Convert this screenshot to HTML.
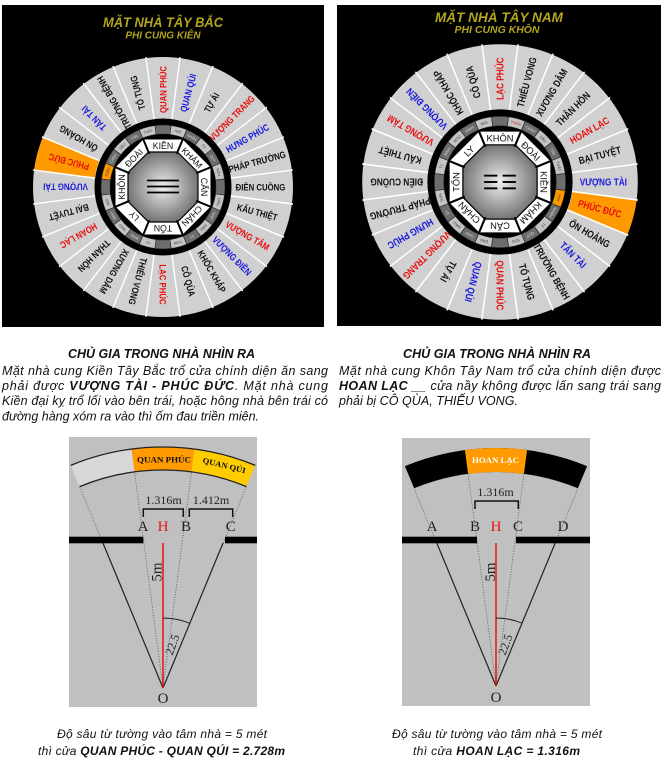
<!DOCTYPE html>
<html><head><meta charset="utf-8">
<style>
html,body{margin:0;padding:0;background:#fff;width:663px;height:770px;overflow:hidden}
svg{display:block}
</style></head>
<body>
<svg width="663" height="770" viewBox="0 0 663 770" xmlns="http://www.w3.org/2000/svg" font-family="'Liberation Sans', Arial, sans-serif">
<defs>
  <radialGradient id="gc" cx="50%" cy="50%" r="55%">
    <stop offset="0" stop-color="#efefef"/>
    <stop offset="1" stop-color="#6a6a6a"/>
  </radialGradient>
  <line id="sep" x1="0" y1="-131" x2="0" y2="131" stroke="#fff" stroke-width="1.4"/>
  <path id="oseg" d="M-16.97,-128.89 A130,130 0 0 1 16.97,-128.89 L9.01,-68.41 A69,69 0 0 0 -9.01,-68.41Z"/>
  <path id="cell" d="M-8.09,-61.47 A62,62 0 0 1 8.09,-61.47 L6.92,-52.55 A53,53 0 0 0 -6.92,-52.55Z" stroke="#222" stroke-width="0.6"/>
  <line id="vsep" x1="0" y1="-36" x2="0" y2="-53" stroke="#000" stroke-width="2"/>
  <g id="ring1">
    <circle r="130" fill="#d0d0d0"/>
    <use href="#sep" transform="rotate(7.5)"/>
    <use href="#sep" transform="rotate(22.5)"/>
    <use href="#sep" transform="rotate(37.5)"/>
    <use href="#sep" transform="rotate(52.5)"/>
    <use href="#sep" transform="rotate(67.5)"/>
    <use href="#sep" transform="rotate(82.5)"/>
    <use href="#sep" transform="rotate(97.5)"/>
    <use href="#sep" transform="rotate(112.5)"/>
    <use href="#sep" transform="rotate(127.5)"/>
    <use href="#sep" transform="rotate(142.5)"/>
    <use href="#sep" transform="rotate(157.5)"/>
    <use href="#sep" transform="rotate(172.5)"/>
  </g>
  <g id="core">
    <circle r="68.5" fill="#000"/>
    <use href="#cell" fill="#6d6d6d"/>
    <use href="#cell" transform="rotate(15)" fill="#c4c4c4"/>
    <use href="#cell" transform="rotate(30)" fill="#6d6d6d"/>
    <use href="#cell" transform="rotate(45)" fill="#c4c4c4"/>
    <use href="#cell" transform="rotate(60)" fill="#6d6d6d"/>
    <use href="#cell" transform="rotate(75)" fill="#c4c4c4"/>
    <use href="#cell" transform="rotate(90)" fill="#6d6d6d"/>
    <use href="#cell" transform="rotate(105)" fill="#c4c4c4"/>
    <use href="#cell" transform="rotate(120)" fill="#6d6d6d"/>
    <use href="#cell" transform="rotate(135)" fill="#c4c4c4"/>
    <use href="#cell" transform="rotate(150)" fill="#6d6d6d"/>
    <use href="#cell" transform="rotate(165)" fill="#c4c4c4"/>
    <use href="#cell" transform="rotate(180)" fill="#6d6d6d"/>
    <use href="#cell" transform="rotate(195)" fill="#c4c4c4"/>
    <use href="#cell" transform="rotate(210)" fill="#6d6d6d"/>
    <use href="#cell" transform="rotate(225)" fill="#c4c4c4"/>
    <use href="#cell" transform="rotate(240)" fill="#6d6d6d"/>
    <use href="#cell" transform="rotate(255)" fill="#c4c4c4"/>
    <use href="#cell" transform="rotate(270)" fill="#6d6d6d"/>
    <use href="#cell" transform="rotate(285)" fill="#c4c4c4"/>
    <use href="#cell" transform="rotate(300)" fill="#6d6d6d"/>
    <use href="#cell" transform="rotate(315)" fill="#c4c4c4"/>
    <use href="#cell" transform="rotate(330)" fill="#6d6d6d"/>
    <use href="#cell" transform="rotate(345)" fill="#c4c4c4"/>
    <polygon points="19.88,-48 48,-19.88 48,19.88 19.88,48 -19.88,48 -48,19.88 -48,-19.88 -19.88,-48" fill="#fff" stroke="#000" stroke-width="1"/>
    <polygon points="14.5,-35 35,-14.5 35,14.5 14.5,35 -14.5,35 -35,14.5 -35,-14.5 -14.5,-35" fill="url(#gc)" stroke="#000" stroke-width="1.2"/>
    <use href="#vsep" transform="rotate(22.5)"/>
    <use href="#vsep" transform="rotate(67.5)"/>
    <use href="#vsep" transform="rotate(112.5)"/>
    <use href="#vsep" transform="rotate(157.5)"/>
    <use href="#vsep" transform="rotate(202.5)"/>
    <use href="#vsep" transform="rotate(247.5)"/>
    <use href="#vsep" transform="rotate(292.5)"/>
    <use href="#vsep" transform="rotate(337.5)"/>
  </g>
</defs>

<!-- ============ LEFT PANEL ============ -->
<rect x="2" y="5" width="322" height="322" fill="#000"/>
<text x="163" y="27" font-size="14" font-weight="bold" font-style="italic" text-anchor="middle" textLength="120" lengthAdjust="spacingAndGlyphs" fill="#b3a51c">MẶT NHÀ  TÂY BẮC</text>
<text x="163" y="38.5" font-size="10" font-weight="bold" font-style="italic" text-anchor="middle" textLength="75" lengthAdjust="spacingAndGlyphs" fill="#b3a51c">PHI CUNG KIÊN</text>

<g transform="translate(163,187)">
  <use href="#ring1"/>
  <use href="#oseg" transform="rotate(285)" fill="#ff9900"/>
  <use href="#sep" transform="rotate(97.5)"/>
  <use href="#sep" transform="rotate(112.5)"/>
  <g font-weight="bold" font-size="9.5" text-anchor="middle">
    <text transform="rotate(-90) scale(.82,1)" x="118.9" y="3.3" fill="#e81010">QUAN PHÚC</text>
    <text transform="rotate(-75) scale(.82,1)" x="118.9" y="3.3" fill="#1818e0">QUAN QÚI</text>
    <text transform="rotate(-60) scale(.82,1)" x="118.9" y="3.3" fill="#111">TỰ ÁI</text>
    <text transform="rotate(-45) scale(.82,1)" x="118.9" y="3.3" fill="#e81010">VƯỢNG TRANG</text>
    <text transform="rotate(-30) scale(.82,1)" x="118.9" y="3.3" fill="#1818e0">HƯNG PHÚC</text>
    <text transform="rotate(-15) scale(.82,1)" x="118.9" y="3.3" fill="#111">PHÁP TRƯỜNG</text>
    <text transform="rotate(0) scale(.82,1)" x="118.9" y="3.3" fill="#111">ĐIÊN CUỒNG</text>
    <text transform="rotate(15) scale(.82,1)" x="118.9" y="3.3" fill="#111">KẤU THIỆT</text>
    <text transform="rotate(30) scale(.82,1)" x="118.9" y="3.3" fill="#e81010">VƯỢNG TÂM</text>
    <text transform="rotate(45) scale(.82,1)" x="118.9" y="3.3" fill="#1818e0">VƯỢNG ĐIỀN</text>
    <text transform="rotate(60) scale(.82,1)" x="118.9" y="3.3" fill="#111">KHỐC KHẤP</text>
    <text transform="rotate(75) scale(.82,1)" x="118.9" y="3.3" fill="#111">CÔ QÙA</text>
    <text transform="rotate(90) scale(.82,1)" x="118.9" y="3.3" fill="#e81010">LẠC PHÚC</text>
    <text transform="rotate(105) scale(.82,1)" x="118.9" y="3.3" fill="#111">THIỂU VONG</text>
    <text transform="rotate(120) scale(.82,1)" x="118.9" y="3.3" fill="#111">XƯƠNG DÂM</text>
    <text transform="rotate(135) scale(.82,1)" x="118.9" y="3.3" fill="#111">THÂN HÔN</text>
    <text transform="rotate(150) scale(.82,1)" x="118.9" y="3.3" fill="#e81010">HOAN LẠC</text>
    <text transform="rotate(165) scale(.82,1)" x="118.9" y="3.3" fill="#111">BẠI TUYỆT</text>
    <text transform="rotate(180) scale(.82,1)" x="118.9" y="3.3" fill="#1818e0">VƯỢNG TÀI</text>
    <text transform="rotate(195) scale(.82,1)" x="118.9" y="3.3" fill="#e81010">PHÚC ĐỨC</text>
    <text transform="rotate(210) scale(.82,1)" x="118.9" y="3.3" fill="#111">ỔN HOẢNG</text>
    <text transform="rotate(225) scale(.82,1)" x="118.9" y="3.3" fill="#1818e0">TẤN TÀI</text>
    <text transform="rotate(240) scale(.82,1)" x="118.9" y="3.3" fill="#111">TRƯỜNG BỆNH</text>
    <text transform="rotate(255) scale(.82,1)" x="118.9" y="3.3" fill="#111">TỐ TỤNG</text>
  </g>
  <use href="#core"/>
  <use href="#cell" transform="rotate(285)" fill="#ff9900"/>
  <g font-size="3.6" text-anchor="middle" fill="#3a3a3a">
    <text transform="rotate(15)" y="-56.2">HỢI</text>
    <text transform="rotate(30)" y="-56.2" fill="#ddd">NHÂM</text>
    <text transform="rotate(45)" y="-56.2">TÝ</text>
    <text transform="rotate(60)" y="-56.2" fill="#ddd">QUÝ</text>
    <text transform="rotate(75)" y="-56.2">SỬU</text>
    <text transform="rotate(105)" y="-56.2">DẦN</text>
    <text transform="rotate(120)" y="-56.2" fill="#ddd">GIÁP</text>
    <text transform="rotate(135)" y="-56.2">MÃO</text>
    <text transform="rotate(150)" y="-56.2" fill="#ddd">ẤT</text>
    <text transform="rotate(165)" y="-56.2">THÌN</text>
    <text transform="rotate(195)" y="-56.2">TỴ</text>
    <text transform="rotate(210)" y="-56.2" fill="#ddd">BÍNH</text>
    <text transform="rotate(225)" y="-56.2">NGỌ</text>
    <text transform="rotate(240)" y="-56.2" fill="#ddd">ĐINH</text>
    <text transform="rotate(255)" y="-56.2">MÙI</text>
    <text transform="rotate(285)" y="-56.2">THÂN</text>
    <text transform="rotate(300)" y="-56.2" fill="#ddd">CANH</text>
    <text transform="rotate(315)" y="-56.2">DẬU</text>
    <text transform="rotate(330)" y="-56.2" fill="#ddd">TÂN</text>
    <text transform="rotate(345)" y="-56.2">TUẤT</text>
  </g>
  <g font-size="8.8" text-anchor="middle" fill="#111">
    <text transform="rotate(0)" y="-38">KIỀN</text>
    <text transform="rotate(45)" y="-38">KHẢM</text>
    <text transform="rotate(90)" y="-38">CẤN</text>
    <text transform="rotate(135)" y="-38">CHẤN</text>
    <text transform="rotate(180)" y="-38">TỐN</text>
    <text transform="rotate(225)" y="-38">LY</text>
    <text transform="rotate(270)" y="-38">KHÔN</text>
    <text transform="rotate(315)" y="-38">ĐOÀI</text>
  </g>
  <g stroke="#000" stroke-width="1.8">
    <line x1="-16" y1="-6.5" x2="16" y2="-6.5"/>
    <line x1="-16" y1="-0.5" x2="16" y2="-0.5"/>
    <line x1="-16" y1="5.5" x2="16" y2="5.5"/>
  </g>
</g>

<!-- ============ RIGHT PANEL ============ -->
<rect x="337" y="5" width="324" height="321" fill="#000"/>
<text x="499" y="22" font-size="14" font-weight="bold" font-style="italic" text-anchor="middle" textLength="128" lengthAdjust="spacingAndGlyphs" fill="#b3a51c">MẶT NHÀ  TÂY NAM</text>
<text x="497" y="33" font-size="10" font-weight="bold" font-style="italic" text-anchor="middle" textLength="85" lengthAdjust="spacingAndGlyphs" fill="#b3a51c">PHI CUNG KHÔN</text>

<g transform="translate(500,182) scale(1.06)">
  <use href="#ring1"/>
  <use href="#oseg" transform="rotate(105)" fill="#ff9900"/>
  <use href="#sep" transform="rotate(97.5)"/>
  <use href="#sep" transform="rotate(112.5)"/>
  <g font-weight="bold" font-size="9.5" text-anchor="middle">
    <text transform="rotate(-90) scale(.82,1)" x="118.9" y="3.3" fill="#e81010">LẠC PHÚC</text>
    <text transform="rotate(-75) scale(.82,1)" x="118.9" y="3.3" fill="#111">THIỂU VONG</text>
    <text transform="rotate(-60) scale(.82,1)" x="118.9" y="3.3" fill="#111">XƯƠNG DÂM</text>
    <text transform="rotate(-45) scale(.82,1)" x="118.9" y="3.3" fill="#111">THÂN HÔN</text>
    <text transform="rotate(-30) scale(.82,1)" x="118.9" y="3.3" fill="#e81010">HOAN LẠC</text>
    <text transform="rotate(-15) scale(.82,1)" x="118.9" y="3.3" fill="#111">BẠI TUYỆT</text>
    <text transform="rotate(0) scale(.82,1)" x="118.9" y="3.3" fill="#1818e0">VƯỢNG TÀI</text>
    <text transform="rotate(15) scale(.82,1)" x="118.9" y="3.3" fill="#e81010">PHÚC ĐỨC</text>
    <text transform="rotate(30) scale(.82,1)" x="118.9" y="3.3" fill="#111">ỔN HOẢNG</text>
    <text transform="rotate(45) scale(.82,1)" x="118.9" y="3.3" fill="#1818e0">TẤN TÀI</text>
    <text transform="rotate(60) scale(.82,1)" x="118.9" y="3.3" fill="#111">TRƯỜNG BỆNH</text>
    <text transform="rotate(75) scale(.82,1)" x="118.9" y="3.3" fill="#111">TỐ TỤNG</text>
    <text transform="rotate(90) scale(.82,1)" x="118.9" y="3.3" fill="#e81010">QUAN PHÚC</text>
    <text transform="rotate(105) scale(.82,1)" x="118.9" y="3.3" fill="#1818e0">QUAN QÚI</text>
    <text transform="rotate(120) scale(.82,1)" x="118.9" y="3.3" fill="#111">TỰ ÁI</text>
    <text transform="rotate(135) scale(.82,1)" x="118.9" y="3.3" fill="#e81010">VƯỢNG TRANG</text>
    <text transform="rotate(150) scale(.82,1)" x="118.9" y="3.3" fill="#1818e0">HƯNG PHÚC</text>
    <text transform="rotate(165) scale(.82,1)" x="118.9" y="3.3" fill="#111">PHÁP TRƯỜNG</text>
    <text transform="rotate(180) scale(.82,1)" x="118.9" y="3.3" fill="#111">ĐIÊN CUỒNG</text>
    <text transform="rotate(195) scale(.82,1)" x="118.9" y="3.3" fill="#111">KẤU THIỆT</text>
    <text transform="rotate(210) scale(.82,1)" x="118.9" y="3.3" fill="#e81010">VƯỢNG TÂM</text>
    <text transform="rotate(225) scale(.82,1)" x="118.9" y="3.3" fill="#1818e0">VƯỢNG ĐIỀN</text>
    <text transform="rotate(240) scale(.82,1)" x="118.9" y="3.3" fill="#111">KHỐC KHẤP</text>
    <text transform="rotate(255) scale(.82,1)" x="118.9" y="3.3" fill="#111">CÔ QÙA</text>
  </g>
  <use href="#core"/>
  <use href="#cell" transform="rotate(105)" fill="#ff9900"/>
  <g font-size="3.6" text-anchor="middle" fill="#3a3a3a">
    <text transform="rotate(15)" y="-56.2" fill="#d02020">THÂN</text>
    <text transform="rotate(30)" y="-56.2" fill="#ddd">CANH</text>
    <text transform="rotate(45)" y="-56.2">DẬU</text>
    <text transform="rotate(60)" y="-56.2" fill="#ddd">TÂN</text>
    <text transform="rotate(75)" y="-56.2">TUẤT</text>
    <text transform="rotate(105)" y="-56.2">HỢI</text>
    <text transform="rotate(120)" y="-56.2" fill="#ddd">NHÂM</text>
    <text transform="rotate(135)" y="-56.2">TÝ</text>
    <text transform="rotate(150)" y="-56.2" fill="#ddd">QUÝ</text>
    <text transform="rotate(165)" y="-56.2">SỬU</text>
    <text transform="rotate(195)" y="-56.2">DẦN</text>
    <text transform="rotate(210)" y="-56.2" fill="#ddd">GIÁP</text>
    <text transform="rotate(225)" y="-56.2">MÃO</text>
    <text transform="rotate(240)" y="-56.2" fill="#ddd">ẤT</text>
    <text transform="rotate(255)" y="-56.2">THÌN</text>
    <text transform="rotate(285)" y="-56.2">TỴ</text>
    <text transform="rotate(300)" y="-56.2" fill="#ddd">BÍNH</text>
    <text transform="rotate(315)" y="-56.2">NGỌ</text>
    <text transform="rotate(330)" y="-56.2" fill="#ddd">ĐINH</text>
    <text transform="rotate(345)" y="-56.2">MÙI</text>
  </g>
  <g font-size="8.8" text-anchor="middle" fill="#111">
    <text transform="rotate(0)" y="-38">KHÔN</text>
    <text transform="rotate(45)" y="-38">ĐOÀI</text>
    <text transform="rotate(90)" y="-38">KIỀN</text>
    <text transform="rotate(135)" y="-38">KHẢM</text>
    <text transform="rotate(180)" y="-38">CẤN</text>
    <text transform="rotate(225)" y="-38">CHẤN</text>
    <text transform="rotate(270)" y="-38">TỐN</text>
    <text transform="rotate(315)" y="-38">LY</text>
  </g>
  <g stroke="#000" stroke-width="1.8">
    <line x1="-15" y1="-6" x2="-2.5" y2="-6"/>
    <line x1="2.5" y1="-6" x2="15" y2="-6"/>
    <line x1="-15" y1="0" x2="-2.5" y2="0"/>
    <line x1="2.5" y1="0" x2="15" y2="0"/>
    <line x1="-15" y1="6" x2="-2.5" y2="6"/>
    <line x1="2.5" y1="6" x2="15" y2="6"/>
  </g>
</g>

<!-- ============ PARAGRAPHS ============ -->
<g font-size="12.5" fill="#111" font-style="italic">
  <text x="161.5" y="358" font-weight="bold" text-anchor="middle" textLength="187" lengthAdjust="spacingAndGlyphs">CHỦ GIA TRONG NHÀ NHÌN RA</text>
  <text x="2" y="375" textLength="326" lengthAdjust="spacing">Mặt nhà cung Kiền Tây Bắc trổ cửa chính diện ăn sang</text>
  <text x="2" y="390" textLength="326" lengthAdjust="spacing">phải được <tspan font-weight="bold">VƯỢNG TÀI - PHÚC ĐỨC</tspan>. Mặt nhà cung</text>
  <text x="2" y="405" textLength="326" lengthAdjust="spacing">Kiền đại kỵ trổ lối vào bên trái, hoặc hông nhà bên trái có</text>
  <text x="2" y="420.5" textLength="257" lengthAdjust="spacing">đường hàng xóm ra vào thì ốm đau triền miên.</text>

  <text x="497" y="358" font-weight="bold" text-anchor="middle" textLength="188" lengthAdjust="spacingAndGlyphs">CHỦ GIA TRONG NHÀ NHÌN RA</text>
  <text x="339" y="375" textLength="322" lengthAdjust="spacing">Mặt nhà cung Khôn Tây Nam trổ cửa chính diện được</text>
  <text x="339" y="390" textLength="322" lengthAdjust="spacing"><tspan font-weight="bold">HOAN LẠC</tspan> __ cửa nầy không được lấn sang trái sang</text>
  <text x="339" y="405" textLength="179" lengthAdjust="spacing">phải bị CÔ QÙA, THIẾU VONG.</text>
</g>

<!-- ============ BOTTOM LEFT DIAGRAM ============ -->
<rect x="69" y="437" width="188" height="270" fill="#c0c0c0"/>
<path d="M70.77,465.35 A241,241 0 0 1 131.54,449.06 L134.54,471.87 A218,218 0 0 0 79.58,486.59Z" fill="#d8d8d8"/>
<path d="M131.54,449.06 A241,241 0 0 1 194.46,449.06 L191.46,471.87 A218,218 0 0 0 134.54,471.87Z" fill="#ff9a00"/>
<path d="M194.46,449.06 A241,241 0 0 1 255.23,465.35 L246.42,486.59 A218,218 0 0 0 191.46,471.87Z" fill="#ffcc00"/>
<path d="M70.77,465.35 A241,241 0 0 1 255.23,465.35 M79.58,486.59 A218,218 0 0 1 246.42,486.59" fill="none" stroke="#222" stroke-width="1.3"/>
<text x="164" y="462.5" font-family="'Liberation Serif', serif" font-weight="bold" font-size="8" text-anchor="middle" textLength="54" lengthAdjust="spacingAndGlyphs" fill="#111">QUAN PHÚC</text>
<text transform="translate(223.5,468) rotate(14)" font-family="'Liberation Serif', serif" font-weight="bold" font-size="8" text-anchor="middle" textLength="44" lengthAdjust="spacingAndGlyphs" fill="#111">QUAN QÚI</text>
<g stroke="#555" stroke-width="0.8" stroke-dasharray="1 1.6" fill="none">
  <line x1="163" y1="688" x2="134.54" y2="471.87"/>
  <line x1="163" y1="688" x2="191.46" y2="471.87"/>
  <line x1="102.94" y1="543" x2="79.58" y2="486.59"/>
  <line x1="223.06" y1="543" x2="246.42" y2="486.59"/>
</g>
<g stroke="#222" stroke-width="1.2">
  <line x1="163" y1="688" x2="102.94" y2="543"/>
  <line x1="163" y1="688" x2="223.06" y2="543"/>
</g>
<rect x="69" y="536.7" width="74.3" height="6.6" fill="#000"/>
<rect x="225" y="536.7" width="32" height="6.6" fill="#000"/>
<line x1="163" y1="543" x2="163" y2="688" stroke="#ee1111" stroke-width="1.5"/>
<path d="M163,618 A70,70 0 0 1 189.79,623.33" fill="none" stroke="#222" stroke-width="1"/>
<path d="M143.3,517 V509 H183.3 V517 M189.3,517 V509 H232.7 V517" fill="none" stroke="#111" stroke-width="1.5"/>
<g font-family="'Liberation Serif', serif" fill="#222" text-anchor="middle">
  <text x="163.5" y="504" font-size="12">1.316m</text>
  <text x="211" y="504" font-size="12">1.412m</text>
  <text x="143" y="531" font-size="15">A</text>
  <text x="163" y="531" font-size="15" fill="#ee1111">H</text>
  <text x="186" y="531" font-size="15">B</text>
  <text x="230.7" y="531" font-size="15">C</text>
  <text x="163" y="703" font-size="15">O</text>
  <text transform="translate(161.5,572) rotate(-90)" font-size="15">5m</text>
  <text transform="translate(176,646) rotate(-70)" font-size="12">22.5</text>
</g>

<!-- ============ BOTTOM RIGHT DIAGRAM ============ -->
<rect x="402" y="438" width="188" height="268" fill="#c0c0c0"/>
<path d="M404.92,466.12 A238,238 0 0 1 587.08,466.12 L577.89,488.29 A214,214 0 0 0 414.11,488.29Z" fill="#000"/>
<path d="M464.93,450.04 A238,238 0 0 1 527.07,450.04 L523.93,473.83 A214,214 0 0 0 468.07,473.83Z" fill="#ff9a00"/>
<text x="495.5" y="463" font-family="'Liberation Serif', serif" font-weight="bold" font-size="8" text-anchor="middle" textLength="47" lengthAdjust="spacingAndGlyphs" fill="#fff">HOAN LẠC</text>
<g stroke="#555" stroke-width="0.8" stroke-dasharray="1 1.6" fill="none">
  <line x1="496" y1="686" x2="468.07" y2="473.83"/>
  <line x1="496" y1="686" x2="523.93" y2="473.83"/>
  <line x1="436.8" y1="543" x2="414.11" y2="488.29"/>
  <line x1="555.2" y1="543" x2="577.89" y2="488.29"/>
</g>
<g stroke="#222" stroke-width="1.2">
  <line x1="496" y1="686" x2="436.8" y2="543"/>
  <line x1="496" y1="686" x2="555.2" y2="543"/>
</g>
<rect x="402" y="536.7" width="75" height="6.6" fill="#000"/>
<rect x="516" y="536.7" width="74" height="6.6" fill="#000"/>
<line x1="496" y1="543" x2="496" y2="686" stroke="#ee1111" stroke-width="1.5"/>
<path d="M496,618 A68,68 0 0 1 522.02,623.18" fill="none" stroke="#222" stroke-width="1"/>
<path d="M475,509 V501 H518.3 V509" fill="none" stroke="#111" stroke-width="1.5"/>
<g font-family="'Liberation Serif', serif" fill="#222" text-anchor="middle">
  <text x="495.5" y="496" font-size="12">1.316m</text>
  <text x="432" y="531" font-size="15">A</text>
  <text x="475" y="531" font-size="15">B</text>
  <text x="496" y="531" font-size="15" fill="#ee1111">H</text>
  <text x="518" y="531" font-size="15">C</text>
  <text x="563" y="531" font-size="15">D</text>
  <text x="496" y="702" font-size="15">O</text>
  <text transform="translate(495,572) rotate(-90)" font-size="15">5m</text>
  <text transform="translate(509,646) rotate(-70)" font-size="12">22.5</text>
</g>

<!-- ============ CAPTIONS ============ -->
<g font-size="12" fill="#111" font-style="italic" text-anchor="middle">
  <text x="162" y="738" textLength="210" lengthAdjust="spacing">Độ sâu từ tường vào tâm nhà = 5 mét</text>
  <text x="161.5" y="755" textLength="247" lengthAdjust="spacing">thì cửa <tspan font-weight="bold">QUAN PHÚC - QUAN QÚI = 2.728m</tspan></text>
  <text x="497" y="738" textLength="210" lengthAdjust="spacing">Độ sâu từ tường vào tâm nhà = 5 mét</text>
  <text x="496.5" y="755" textLength="167" lengthAdjust="spacing">thì cửa <tspan font-weight="bold">HOAN LẠC = 1.316m</tspan></text>
</g>
</svg>
</body></html>
